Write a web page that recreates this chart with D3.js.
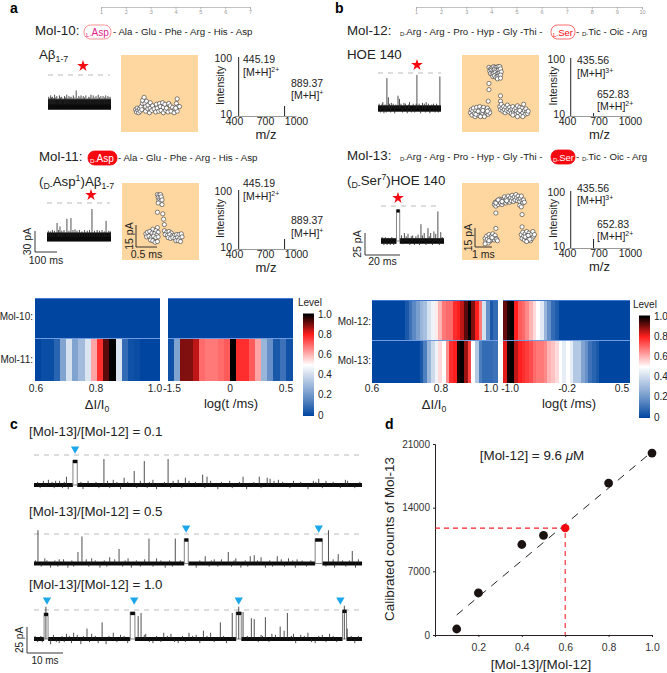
<!DOCTYPE html>
<html>
<head>
<meta charset="utf-8">
<script src="https://cdn.jsdelivr.net/npm/d3@7"></script>
<style>
body{margin:0;background:#fff}
svg{display:block}
text{font-family:"Liberation Sans",Arial,sans-serif;fill:#222}
.panel{font-weight:700;font-size:14px;fill:#000}
</style>
</head>
<body>
<script>
// heat map levels, one value per column
var heat10dI = [0,0,0,0,0,0,0,0,0,0,0,0,0,0,0,0,0,0,0,0]
var heat11dI = [0,.02,.02,.08,.25,.42,.25,.32,.43,.62,.78,.93,1,.43,.1,.03,.02,0,0,0]
var heat10t = [0,0,0,0,0,0,0,0,0,0,0,0,0,0,0,0,0,0,0,0]
var heat11t = [.03,.25,.9,.9,.85,.7,.68,.68,.7,.72,1,.78,.78,.72,.62,.3,.2,.05,.12,.03]
var heat12dI = [0,0,0,0,0,0,0,0,0,.05,.12,.18,.24,.3,.33,.42,.47,.53,.6,.68,.7,.7,.78,.8,.85,.93,1,.9,.8,.68,.42,.2,.05,.1]
var heat13dI = [0,0,0,0,0,0,0,0,0,0,0,0,0,.05,.15,.3,.4,.47,.55,.5,.65,.78,.8,.98,1,.88,.75,.5,.35,.15,.1,.1,.1,.12]
var heat12t = [.92,.98,1,.8,.72,.7,.66,.6,.55,.5,.44,.3,.2,.1,.06,0,0,0,0,0,0,0,0,0,0,0,0,0,0,0,0,0,0,0]
var heat13t = [.82,.98,1,.85,.8,.78,.76,.74,.7,.68,.68,.66,.6,.58,.55,.5,.45,.5,.45,.35,.35,.25,.2,.12,.08,.05,0,0,0,0,0,0,0,0]
var colorTicks = [0,.2,.4,.6,.8,1]

// panel d
var ratio = [.1,.2,.4,.5,.8,1]
var counts = [660,4620,9950,10950,16700,20000]
var unknownRatio = [.6]
var unknownCount = [11750]
var fitRatio = [.1,1]
var fitCount = [2200,20150]
var dXTicks = [.2,.4,.6,.8,1]
var dYTicks = [0,7000,14000,21000]

// traces: spikes are [ms, pA], blocks are [start ms, end ms, pA], fringe is the small noise
var c1Spikes = [[19.4,25],[30.6,23],[27.8,13.5],[37.2,25],[4,5],[6,4],[9,8],[22,5],[25,7],[33,5],[40,5],[42,7],[46.8,10],[48,8],[58,8],[62.5,8],[64.7,7],[65.5,6],[67.8,5],[79,6],[77.5,4],[86.4,5]]
var c1Fringe = [[1,3],[1.7,-3],[2.6,4],[3.3,-2],[5,3],[5.6,-3],[7.1,4],[7.9,-3],[8.4,3],[9.5,-4],[13,3],[13.6,-4],[15,4],[17.2,3],[18,-3],[20.4,4],[21,-3],[23,3],[24,-4],[26,3],[28.5,-3],[29.5,4],[31.4,-3],[32,3],[34,-4],[36.2,3],[37.9,-3],[38.6,4],[41,-3],[43,4],[44.8,3],[47.4,-3],[49,4],[51,-4],[52,3],[54.3,4],[55,-3],[57,3],[59,-4],[61,3],[63,-3],[66.6,4],[69,3],[71,-3],[72,4],[74,3],[76,-4],[78.2,3],[80,-3],[81,4],[83,3],[85,-3],[87,4],[89,-3],[90.4,3]]
var c1Blocks = [[10.8,12,24]]
var c1Marks = [11.4]
var c2Spikes = [[1.1,32],[13.3,26],[31.9,24],[39.2,24],[12.2,11],[23.6,14],[26.1,5],[53.9,11],[60,7],[61.1,8],[47.5,7],[67.5,7],[70.6,5],[81.7,32],[84.4,9],[88.3,12],[3,5],[7,4],[16,5],[21,6],[34,5],[50,4],[56,5],[63,6],[73,4],[83,4],[90,4]]
var c2Fringe = [[.4,3],[2,-3],[3.6,3],[4.6,-4],[5.8,3],[6.6,-3],[8.2,4],[9.4,-4],[10.5,3],[11,-3],[14.5,4],[15.2,-3],[17,3],[18.3,-4],[19.5,3],[20.2,-3],[22.4,4],[24.6,-3],[25.3,3],[27,-4],[28.4,3],[29.5,-3],[30.7,4],[33,-3],[35.2,3],[36.4,-4],[37.6,3],[38.4,-3],[40.6,3],[45,-4],[46,3],[48.6,-3],[49.2,3],[51,-3],[52,4],[54.8,-3],[55.5,3],[57.4,-4],[58.6,3],[59.3,-3],[62,3],[64.2,-4],[65.4,3],[66.2,-3],[68.6,4],[69.5,-3],[71.8,3],[72.5,-4],[74.4,3],[75.6,-3],[76.8,3],[81,-3],[83.4,-4],[85.6,3],[86.5,-3],[87.5,3],[89.2,-4]]
var c2Blocks = [[41.7,42.8,24],[78,80,24]]
var c2Marks = [42.2,79]
var c3Spikes = [[18.9,16],[14.7,10],[29.7,25],[28.9,22],[51.7,16],[55,25],[58,26],[60.3,20],[61.1,19],[64.2,21],[68.3,12],[70.3,25],[69.4,8],[86.9,10],[3.3,31],[86.1,32],[56.8,31],[9,5],[11,6],[16,5],[22,6],[24,4],[31,5],[36,6],[38,5],[43,6],[45,4],[47,8],[49,6],[63,4],[66,5],[72,5],[74,4],[76,6],[80,4],[82,5]]
var c3Fringe = [[.3,3],[1,-3],[1.9,3],[2.3,-3],[4.6,-5],[5.4,4],[6.2,-3],[7,-4],[7.8,3],[8.4,-3],[9.8,3],[10.4,-4],[12,4],[13,-5],[13.7,3],[15.4,-3],[17,3],[17.8,-4],[20,-5],[20.8,3],[23,-3],[25,3],[26,-4],[30.6,4],[32,-3],[33,-4],[34,3],[35.2,-3],[37,3],[39,-3],[40,-4],[41.2,3],[42,-3],[44,3],[46,-4],[48,3],[50,-3],[52.6,3],[53.4,-4],[59.2,3],[62.2,-3],[63.4,3],[65.2,-3],[67,4],[71.4,3],[72.6,-4],[75,3],[77,-3],[78,-4],[79,3],[81,-3],[83,3],[84,-3],[88,3],[89,-4],[90,3]]
var c3Blocks = [[2.8,3.9,25],[26.7,28,26],[56.1,57.5,26],[85.6,86.7,28]]
var c3Marks = [3.6,27.8,56.8,85]
var a1Spikes = [[3,11],[8,9],[12,13],[16,10],[20,11],[25,9],[30,14],[35,10],[40,12],[46,9],[52,13],[57,10],[62,11],[68,9],[75,12],[80,10],[85,14],[90,9],[95,12],[100,10],[105,11],[110,9],[115,13],[122,10],[128,20],[134,9],[140,12],[145,10],[150,13],[155,9],[160,12],[166,10],[172,13],[178,9],[185,11],[190,10],[195,14],[200,9],[205,13],[212,10],[218,12],[223,9],[228,14],[234,10],[240,12],[245,9],[250,12],[256,10],[262,13],[267,9],[272,12],[277,10],[282,11]]
var a2Spikes = [[45,20],[89,26],[107,27],[201,40],[264,23],[58,15],[125,11],[6,9],[15,8],[24,10],[33,9],[52,10],[66,9],[76,10],[98,9],[116,10],[134,9],[145,10],[156,8],[168,10],[180,9],[190,10],[212,9],[224,10],[235,9],[246,10],[256,8],[276,9],[283,8]]
var b1Spikes = [[24,38],[54,16],[58,12],[28,14],[105,42],[167,40],[13,8],[36,7],[70,7],[85,8],[120,7],[130,8],[150,6]]
var b1Fringe = [[3,6],[7,-5],[11,6],[16,-6],[19,5],[22,-5],[31,6],[34,-5],[41,6],[45,-6],[48,5],[62,6],[66,-5],[74,6],[79,-6],[82,5],[90,-5],[95,6],[99,-5],[103,6],[111,6],[115,-6],[125,6],[128,-5],[136,6],[140,-6],[145,5],[154,-5],[158,6],[163,-5]]
var b2Spikes = [[158,37],[111,21],[130.5,16],[147,12],[65,10],[75,9],[88,7],[103,8],[120,10],[138,10],[152,9],[166,11]]
var b2Fringe = [[3,5],[8,-5],[12,5],[17,-5],[21,4],[26,-5],[30,5],[35,-5],[57,7],[61,-4],[70,6],[80,-5],[84,6],[93,-5],[97,6],[107,-5],[115,7],[125,-5],[134,6],[143,-5],[162,-5],[170,5]]
var b2Blocks = [[43,52,39]]

// event scatter, [dwell, current] in the frame of each orange panel
var a1Scatter = [[19,29],[20,26],[21,31],[22,28],[23,25],[24,30],[25,27],[26,33],[27,29],[28,37],[28,41],[30,45],[31,37],[32,27],[32,33],[33,40],[35,30],[35,35],[37,25],[38,38],[38,31],[40,28],[41,34],[43,30],[45,26],[46,36],[47,31],[49,27],[50,37],[51,33],[52,28],[54,38],[55,25],[55,32],[57,36],[58,28],[59,31],[61,26],[62,37],[64,34],[65,27],[67,32],[69,25],[70,30],[72,37],[73,27],[74,33],[76,33],[73,43],[71,31]]
var a2Scatter = [[46,85],[48,84],[50,85],[47,81],[49,80],[51,82],[48,77],[50,76],[52,78],[47,74],[52,72],[46,62],[53,60],[54,53],[55,46],[46,42],[40,40],[44,38],[47,36],[31,34],[33,36],[36,37],[39,35],[42,34],[45,32],[32,30],[35,31],[38,29],[41,31],[44,29],[47,30],[37,26],[40,25],[43,23],[46,24],[55,38],[58,36],[61,37],[64,35],[56,33],[59,32],[62,33],[65,31],[68,32],[71,33],[74,33],[77,34],[60,29],[63,28],[66,29],[69,28],[72,29],[75,28],[78,30],[70,25],[73,25],[76,24]]
var b1Scatter = [[35,84],[37,82],[39,83],[41,85],[43,84],[45,84],[47,85],[49,85],[36,79],[38,80],[40,79],[42,81],[44,80],[46,79],[48,81],[50,82],[37,76],[39,75],[41,76],[43,77],[45,75],[47,76],[49,77],[51,78],[40,72],[42,73],[44,71],[46,72],[48,73],[50,74],[46,69],[50,70],[35,63],[35,55],[50,47],[34,40],[50,40],[11,25],[12,29],[13,22],[14,27],[15,31],[16,24],[17,20],[18,28],[19,32],[20,25],[21,22],[22,29],[23,33],[24,26],[25,21],[26,30],[27,24],[28,32],[29,27],[30,22],[31,29],[32,25],[33,31],[34,23],[35,28],[36,25],[29,20],[24,20],[18,23],[27,28],[21,27],[33,27],[49,33],[50,29],[51,36],[52,31],[53,27],[54,33],[55,29],[56,25],[57,32],[58,28],[59,35],[60,30],[61,26],[62,32],[63,28],[64,24],[65,30],[66,33],[67,26],[68,29],[69,23],[70,31],[71,27],[72,34],[73,25],[74,29],[75,32],[76,22],[77,27],[78,31],[79,25],[80,36],[81,28],[82,23],[83,30],[84,26],[85,24],[86,27],[66,22],[72,20],[79,20],[75,28]]
var b2Scatter = [[42,72],[43,75],[44,70],[45,74],[46,77],[47,72],[48,76],[49,79],[50,74],[51,78],[52,72],[53,75],[54,79],[55,82],[56,77],[57,74],[58,80],[59,76],[60,83],[61,79],[62,75],[63,81],[64,77],[65,84],[66,80],[67,76],[68,82],[69,78],[70,85],[71,81],[72,77],[73,83],[74,79],[75,76],[76,80],[77,83],[78,77],[79,74],[80,78],[81,75],[75,71],[77,69],[44,74],[47,78],[52,76],[58,77],[44,61],[78,59],[44,41],[78,43],[30,28],[31,24],[32,31],[33,27],[34,22],[35,33],[36,29],[37,25],[38,31],[39,27],[40,34],[41,30],[42,26],[43,32],[44,28],[45,27],[46,25],[30,21],[35,25],[39,29],[77,33],[78,28],[79,36],[80,31],[81,26],[82,34],[83,29],[84,37],[85,32],[86,27],[87,35],[88,30],[89,25],[90,33],[91,28],[92,37],[93,31],[94,33],[84,24],[88,27],[82,30],[86,32]]

// mass spectra, [m/z, intensity]
var a1Peaks = [[445.19,100],[889.37,14.8]]
var a2Peaks = [[445.19,100],[889.37,14.8]]
var b1Peaks = [[435.56,100],[652.83,11.2]]
var b2Peaks = [[435.56,100],[652.83,14.4]]
var mzTicks = [400,700,1000]

var svg = d3.select("body").append("svg").attr("width",667).attr("height",673)

// small text helper, parts are plain strings or [text, "sub"|"sup"|"small"]
function label(x,y,parts,size,anchor,rotate,color) {
    var t = svg.append("text").attr("x",x).attr("y",y).attr("font-size",size)
        .attr("text-anchor",anchor || "start")
    if (rotate) t.attr("transform","rotate(-90 "+x+" "+y+")")
    if (color) t.style("fill",color)
    if (typeof parts === "string") parts = [parts]
    var shift = 0
    parts.forEach(function(p){
        var s = t.append("tspan")
        if (color) s.style("fill",color)
        if (typeof p === "string") {
            s.text(p).attr("dy",-shift)
            shift = 0
        } else {
            var d = p[1]==="sup" ? -size*0.35 : (p[1]==="sub" || p[1]==="small" ? size*0.12 : 0)
            if (p[1]==="sub") d = size*0.2
            s.text(p[0]).attr("font-size",p[1]==="small" ? size*0.62 : size*0.66).attr("dy",d-shift)
            shift = d
        }
    })
    return t
}

function dashed(x1,x2,y) {
    svg.append("line").attr("x1",x1).attr("x2",x2).attr("y1",y).attr("y2",y)
        .attr("stroke","#aaa").attr("stroke-width",0.8).attr("stroke-dasharray","5,5")
}

function star(x,y) {
    svg.append("path").attr("d",d3.symbol().type(d3.symbolStar).size(42))
        .attr("transform","translate("+x+","+y+")").attr("fill","#f5080f")
}

// scale bar: vertical then horizontal
function scaleBar(x,y1,y2,x2,vText,hText,size,vx,hy) {
    svg.append("path").attr("d","M"+x+","+y1+"V"+y2+"H"+x2).attr("fill","none")
        .attr("stroke","#222").attr("stroke-width",0.9)
    label(vx,(y1+y2)/2,vText,size,"middle",true)
    label((x+x2)/2,hy,hText,size,"middle")
}

function drawTrace(t) {
    var x = d3.scaleLinear().domain([0,t.ms]).range([t.x0,t.x1])
    var y = d3.scaleLinear().domain([0,1]).range([t.base,t.base-t.pxPerPa])
    var g = svg.append("g")
    g.append("rect").attr("x",x(0)).attr("width",x(t.ms)-x(0))
        .attr("y",y(t.noise)).attr("height",y(-t.noise)-y(t.noise)).attr("fill","#0a0a0a")
    g.selectAll("line.fringe").data(t.fringe || []).enter().append("line").attr("class","fringe")
        .attr("x1",function(d){return x(d[0])}).attr("x2",function(d){return x(d[0])})
        .attr("y1",y(0)).attr("y2",function(d){return y(d[1])})
        .attr("stroke","#222").attr("stroke-width",0.8)
    g.selectAll("rect.block").data(t.blocks || []).enter().append("rect").attr("class","block")
        .attr("x",function(d){return x(d[0])}).attr("width",function(d){return x(d[1])-x(d[0])})
        .attr("y",function(d){return y(d[2])}).attr("height",function(d){return y(-t.noise-2)-y(d[2])})
        .attr("fill","#fff")
    g.selectAll("line.base").data(t.blocks || []).enter().append("line").attr("class","base")
        .attr("x1",function(d){return x(d[0])}).attr("x2",function(d){return x(d[1])})
        .attr("y1",y(0)).attr("y2",y(0)).attr("stroke","#555").attr("stroke-width",0.7)
    g.selectAll("path.block").data(t.blocks || []).enter().append("path").attr("class","block")
        .attr("d",function(d){return "M"+x(d[0])+","+y(0)+"V"+y(d[2])+"H"+x(d[1])+"V"+y(0)})
        .attr("fill","none").attr("stroke","#777").attr("stroke-width",0.9)
    g.selectAll("line.top").data(t.blocks || []).enter().append("line").attr("class","top")
        .attr("x1",function(d){return x(d[0])}).attr("x2",function(d){return x(d[1])})
        .attr("y1",function(d){return y(d[2]-1.5)}).attr("y2",function(d){return y(d[2]-1.5)})
        .attr("stroke","#0a0a0a").attr("stroke-width",3.2)
    g.selectAll("line.spike").data(t.spikes).enter().append("line").attr("class","spike")
        .attr("x1",function(d){return x(d[0])}).attr("x2",function(d){return x(d[0])})
        .attr("y1",y(0)).attr("y2",function(d){return y(d[1])})
        .attr("stroke","#222").attr("stroke-width",0.8)
    return x
}

function drawScatter(x0,y0,points) {
    var side = 77
    var x = d3.scaleLinear().domain([0,100]).range([x0,x0+side])
    var y = d3.scaleLinear().domain([0,100]).range([y0+side,y0])
    var g = svg.append("g")
    g.append("rect").attr("x",x0).attr("y",y0).attr("width",side).attr("height",side).attr("fill","#fdd6a0")
    g.selectAll("circle").data(points).enter().append("circle")
        .attr("cx",function(d){return x(d[0])}).attr("cy",function(d){return y(d[1])})
        .attr("r",2.1).attr("fill","#fff").attr("stroke","#333").attr("stroke-width",0.6)
}

function drawSpectrum(x0,x1,base,top,peaks) {
    var x = d3.scaleLinear().domain([400,1000]).range([x0,x1])
    var y = d3.scaleLog().domain([10,100]).range([base,top])
    var g = svg.append("g")
    var axis = g.append("g").attr("transform","translate(0,"+base+")")
        .call(d3.axisBottom(x).tickValues(mzTicks).tickSize(0).tickFormat(d3.format("d")))
    axis.select(".domain").attr("stroke","#999").attr("stroke-width",1)
    axis.selectAll("text").attr("font-size",10.5).attr("dy",6).attr("font-family","Liberation Sans").style("fill","#222")
    g.selectAll("line.peak").data(peaks).enter().append("line").attr("class","peak")
        .attr("x1",function(d){return x(d[0])}).attr("x2",function(d){return x(d[0])})
        .attr("y1",y(10)).attr("y2",function(d){return y(d[1])})
        .attr("stroke","#222").attr("stroke-width",1)
    label(x0-2,top+5,"100",10.5,"end")
    label(x0-2,base+2,"10",10.5,"end")
    label(x0-10,(base+top)/2-1,"Intensity",10.5,"middle",true)
    label((x0+x1)/2+1,base+23,"m/z",13,"middle")
}

var levelColor = d3.scaleLinear().domain([0,.5,.8,1]).range(["#0046a1","#ffffff","#ff1f1f","#000000"])

function drawHeat(x0,x1,y0,y1,y2,row1,row2) {
    var x = d3.scaleBand().domain(d3.range(row1.length)).range([x0,x1])
    var g = svg.append("g").attr("shape-rendering","crispEdges")
    ;[[row1,y0,y1],[row2,y1,y2]].forEach(function(r){
        g.append("g").selectAll("rect").data(r[0]).enter().append("rect")
            .attr("x",function(d,i){return x(i)}).attr("width",x.bandwidth()+1)
            .attr("y",r[1]).attr("height",r[2]-r[1])
            .attr("fill",function(d){return levelColor(d)})
    })
    g.append("line").attr("x1",x0).attr("x2",x1+1).attr("y1",y1).attr("y2",y1)
        .attr("stroke","#6f9be0").attr("stroke-width",1)
    g.append("line").attr("x1",x0).attr("x2",x1+1).attr("y1",y0).attr("y2",y0)
        .attr("stroke","#3f78d0").attr("stroke-width",1)
}

function drawColorBar(x0,top,bottom,titleX,titleY,textX) {
    var y = d3.scaleLinear().domain([0,1]).range([bottom,top])
    var g = svg.append("g")
    g.selectAll("rect").data(d3.range(0,1.001,.01)).enter().append("rect")
        .attr("x",x0).attr("width",11)
        .attr("y",function(d){return y(d)-0.5}).attr("height",1.5)
        .attr("fill",function(d){return levelColor(d)})
    colorTicks.forEach(function(v){
        label(textX,y(v)+3.5,v===0 ? "0" : v.toFixed(1),10,"start")
    })
    label(titleX,titleY,"Level",10,"start")
}

function tickRow(labels,positions,y) {
    var x = d3.scaleOrdinal().domain(labels).range(positions)
    labels.forEach(function(l){ label(x(l),y,l.trim(),10.3,"middle") })
}

// panel letters
svg.append("text").attr("class","panel").attr("x",10).attr("y",13).text("a")
svg.append("text").attr("class","panel").attr("x",335).attr("y",13).text("b")
svg.append("text").attr("class","panel").attr("x",10).attr("y",429).text("c")
svg.append("text").attr("class","panel").attr("x",385).attr("y",429).text("d")

// residue rulers
function ruler(x0,x1,n) {
    var x = d3.scaleLinear().domain([1,n]).range([x0,x1])
    var axis = svg.append("g").attr("transform","translate(0,7)")
        .call(d3.axisBottom(x).ticks(n).tickSize(2.5).tickFormat(d3.format("d")))
    axis.selectAll("path,line").attr("stroke","#999").attr("stroke-width",0.6)
    axis.selectAll("text").attr("font-size",5.5).style("fill","#999").attr("dy",1)
}
ruler(101,250,7)
ruler(416,642,10)

// peptide pills
function pill(x0,x1,y,filled,parts) {
    svg.append("rect").attr("x",x0).attr("y",y).attr("width",x1-x0).attr("height",14).attr("rx",6.5)
        .attr("fill",filled ? "#f5080f" : "#fff").attr("stroke",filled ? "#f5080f" : (parts[1]==="Asp" ? "#f77" : "#f44")).attr("stroke-width",0.8)
    var col = filled ? "#fff" : (parts[1]==="Asp" ? "#e0218a" : "#f5080f")
    label(x0+2,y+11,[[parts[0],"small"],parts[1]],parts[1]==="Ser" ? 9.5 : 10,"start",false,col)
}
var seqSize = 9.7
var nameSize = 13.3
label(35,35,"Mol-10:",nameSize)
pill(84,111,25,false,["L-","Asp"])
label(113,35,"- Ala - Glu - Phe - Arg - His - Asp",seqSize)
label(39,161,"Mol-11:",nameSize)
pill(88,117,151,true,["D-","Asp"])
label(118,161,"- Ala - Glu - Phe - Arg - His - Asp",seqSize)
label(347,35,"Mol-12:",nameSize)
label(400,35,[["D-","small"],"Arg - Arg - Pro - Hyp - Gly -Thi -"],seqSize)
pill(551,575,25,false,["L-","Ser"])
label(576,35,["- ",["D-","small"],"Tic - Oic - Arg"],seqSize)
label(347,160,"Mol-13:",nameSize)
label(400,160,[["D-","small"],"Arg - Arg - Pro - Hyp - Gly -Thi -"],seqSize)
pill(551,575,150,true,["D-","Ser"])
label(576,160,["- ",["D-","small"],"Tic - Oic - Arg"],seqSize)

label(39,59,["Aβ",["1-7","sub"]],nameSize)
label(39,186,["(",["D-","sub"],"Asp",["1","sup"],")Aβ",["1-7","sub"]],nameSize)
label(347,59,"HOE 140",nameSize)
label(347,185,["(",["D-","sub"],"Ser",["7","sup"],")HOE 140"],nameSize)

// single channel traces of panels a and b
star(83,66); dashed(48,110,75)
drawTrace({ms:286,x0:48,x1:111,base:104.5,pxPerPa:.7,noise:7.5,spikes:a1Spikes})
star(91,195); dashed(47,110,203)
drawTrace({ms:286,x0:47,x1:111,base:237,pxPerPa:.7,noise:6.5,spikes:a2Spikes})
scaleBar(35,231,252,57,"30 pA","100 ms",10.5,31,264)
star(417,65); dashed(378,441,73)
drawTrace({ms:170,x0:378,x1:441,base:108.5,pxPerPa:.8,noise:4,spikes:b1Spikes,fringe:b1Fringe})
star(398,198); dashed(381,441,206)
drawTrace({ms:175,x0:381,x1:444,base:241,pxPerPa:.8,noise:3.5,spikes:b2Spikes,fringe:b2Fringe,blocks:b2Blocks})
scaleBar(365,233,255,400,"25 pA","20 ms",10.5,361,265)

// scatter
drawScatter(121,55,a1Scatter)
drawScatter(122,183,a2Scatter)
drawScatter(462,55,b1Scatter)
drawScatter(462,183,b2Scatter)
scaleBar(136,225,247,157,"15 pA","0.5 ms",10.5,133,258)
scaleBar(475,228,247,492,"15 pA","1 ms",10.5,472,258)

// spectra
drawSpectrum(234,296,116,57,a1Peaks)
label(243,63,"445.19",10.5); label(243,76,["[M+H]",["2+","sup"]],10.5)
label(291,87,"889.37",10.5); label(291,99,["[M+H]",["+","sup"]],10.5)
drawSpectrum(234,296,249,190,a2Peaks)
label(243,187,"445.19",10.5); label(243,200,["[M+H]",["2+","sup"]],10.5)
label(291,224,"889.37",10.5); label(291,237,["[M+H]",["+","sup"]],10.5)
drawSpectrum(567,630,116,58,b1Peaks)
label(577,64,"435.56",10.5); label(577,77,["[M+H]",["3+","sup"]],10.5)
label(597,98,"652.83",10.5); label(597,110,["[M+H]",["2+","sup"]],10.5)
drawSpectrum(567,630,248,191,b2Peaks)
label(577,192,"435.56",10.5); label(577,204,["[M+H]",["3+","sup"]],10.5)
label(597,228,"652.83",10.5); label(597,240,["[M+H]",["2+","sup"]],10.5)

// heat maps
drawHeat(35,159,298,338,381,heat10dI,heat11dI)
drawHeat(168,292,298,338,381,heat10t,heat11t)
drawHeat(372,497,300,340,383,heat12dI,heat13dI)
drawHeat(503,629,300,340,383,heat12t,heat13t)
drawColorBar(303,314,415,298,306,318)
drawColorBar(639,316,417,633,308,654)
label(33,320,"Mol-10:",10,"end")
label(33,363,"Mol-11:",10,"end")
label(371,325,"Mol-12:",10,"end")
label(371,364,"Mol-13:",10,"end")
tickRow(["0.6","0.8","1.0"],[36,96,155],392)
tickRow(["-1.5","0","0.5"],[172,230,286],392)
tickRow(["0.6 ","0.8 ","1.0 "],[372,441,491],392)
tickRow(["-1.0","-0.2","0.5 "],[510,567,622],392)
label(97,409,["ΔI/I",["0","sub"]],13,"middle")
label(231,408,"log(t /ms)",13,"middle")
label(434,409,["ΔI/I",["0","sub"]],13,"middle")
label(569,408,"log(t /ms)",13,"middle")

// panel c
function traceRow(spikes,fringe,blocks,marks,base,dashY,markY,title,titleY) {
    label(29,titleY,title,13.3)
    dashed(34,362,dashY)
    var x = drawTrace({ms:91,x0:34,x1:362,base:base,pxPerPa:1.04,noise:1.9,spikes:spikes,fringe:fringe,blocks:blocks})
    svg.selectAll(null).data(marks).enter().append("path")
        .attr("d",d3.symbol().type(d3.symbolTriangle).size(30))
        .attr("transform",function(d){return "translate("+x(d)+","+markY+") rotate(180)"})
        .attr("fill","#1ba7ea")
}
traceRow(c1Spikes,c1Fringe,c1Blocks,c1Marks,485,455,449,"[Mol-13]/[Mol-12] = 0.1",436)
traceRow(c2Spikes,c2Fringe,c2Blocks,c2Marks,563.5,534,528,"[Mol-13]/[Mol-12] = 0.5",516)
traceRow(c3Spikes,c3Fringe,c3Blocks,c3Marks,639,610,600,"[Mol-13]/[Mol-12] = 1.0",589)
scaleBar(27,627,653,63,"25 pA","10 ms",10,23,664)

// panel d
var dx = d3.scaleLinear().domain([0,1]).range([435,652])
var dy = d3.scaleLinear().domain([0,21000]).range([635,444])
var xAxisD = svg.append("g").attr("transform","translate(0,635)")
    .call(d3.axisBottom(dx).tickValues(dXTicks).tickSize(2).tickFormat(d3.format(".1f")))
var yAxisD = svg.append("g").attr("transform","translate(435,0)")
    .call(d3.axisLeft(dy).tickValues(dYTicks).tickSize(2).tickFormat(d3.format("d")))
;[xAxisD,yAxisD].forEach(function(a){
    a.selectAll("path,line").attr("stroke","#2a2020").attr("stroke-width",1)
    a.selectAll("text").attr("font-family","Liberation Sans").style("fill","#333")
})
xAxisD.selectAll("text").attr("font-size",10.5).attr("dy",11)
yAxisD.selectAll("text").attr("font-size",10)
svg.append("line").attr("x1",dx(fitRatio[0])).attr("y1",dy(fitCount[0]))
    .attr("x2",dx(fitRatio[1])).attr("y2",dy(fitCount[1]))
    .attr("stroke","#222").attr("stroke-width",1).attr("stroke-dasharray","8,7")
svg.append("path")
    .attr("d","M"+dx(0)+","+dy(unknownCount[0])+"H"+dx(unknownRatio[0])+"V"+dy(0))
    .attr("fill","none").attr("stroke","#f5202a").attr("stroke-width",1.1).attr("stroke-dasharray","5,4")
svg.selectAll("circle.pt").data(ratio).enter().append("circle").attr("class","pt")
    .attr("cx",function(d){return dx(d)}).attr("cy",function(d,i){return dy(counts[i])})
    .attr("r",4.4).attr("fill","#1a1311")
svg.selectAll("circle.red").data(unknownRatio).enter().append("circle").attr("class","red")
    .attr("cx",function(d){return dx(d)}).attr("cy",function(d,i){return dy(unknownCount[i])})
    .attr("r",4.2).attr("fill","#f5080f")
var note = label(532,460,"[Mol-12] = 9.6 ",13.4,"middle")
note.append("tspan").attr("font-style","italic").text("μ")
note.append("tspan").text("M")
label(394,539,"Calibrated counts of Mol-13",13.4,"middle",true)
label(541,669,"[Mol-13]/[Mol-12]",13.4,"middle")
</script>
</body>
</html>
